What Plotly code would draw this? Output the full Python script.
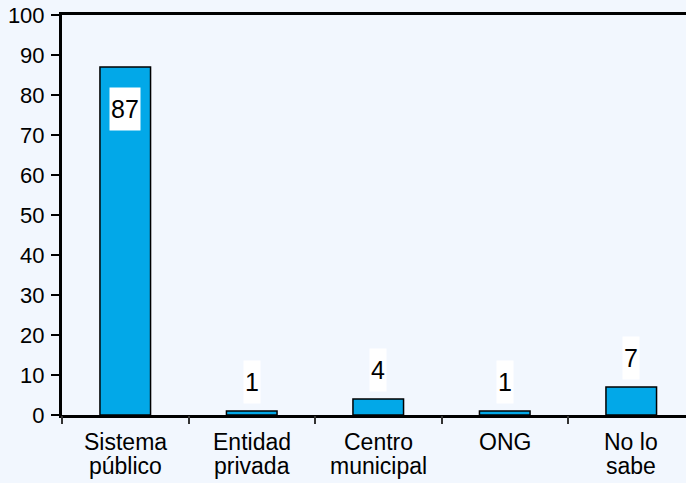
import plotly.graph_objects as go

categories = ["Sistema<br>público", "Entidad<br>privada", "Centro<br>municipal", "ONG", "No lo<br>sabe"]
values = [87, 1, 4, 1, 7]
y_ticks = [0, 10, 20, 30, 40, 50, 60, 70, 80, 90, 100]

BG = "#F2F7FE"
BAR = "#02A8E8"
FONT = "Liberation Sans, Arial, Helvetica, sans-serif"

x_idx = list(range(len(categories)))

fig = go.Figure()
fig.add_trace(go.Bar(
    x=x_idx, y=values, width=0.4,
    marker=dict(color=BAR, line=dict(color="black", width=1.5)),
    hoverinfo="skip", showlegend=False,
))
# invisible trace on secondary x axis for category-boundary ticks
fig.add_trace(go.Scatter(x=[-0.5], y=[0], xaxis="x2", mode="markers",
                         marker=dict(opacity=0), showlegend=False, hoverinfo="skip"))

for i, v in enumerate(values):
    inside = v > 50
    fig.add_annotation(
        x=i, y=v, text=str(v), showarrow=False,
        yanchor="middle", xanchor="center",
        yshift=-42 if inside else 29,
        bgcolor="white", borderpad=0,
        width=30 if len(str(v)) > 1 else 16, height=42,
        font=dict(family=FONT, size=25, color="black"),
    )

# category labels, one annotation per line for tighter line spacing
for i, cat in enumerate(categories):
    for k, line in enumerate(cat.split("<br>")):
        fig.add_annotation(
            x=i, y=0, xref="x", yref="y", text=line, showarrow=False,
            xanchor="center", yanchor="middle", yshift=-27 - 24 * k,
            font=dict(family=FONT, size=23, color="black"),
        )

xr = [-0.5, -0.5 + (686 - 62) / 126.5]

fig.update_layout(
    width=686, height=483,
    margin=dict(l=62, r=0, t=15, b=68),
    paper_bgcolor=BG, plot_bgcolor=BG,
    font=dict(family=FONT, size=22, color="black"),
    xaxis=dict(
        range=xr, tickmode="array", tickvals=x_idx, ticktext=["" for _ in x_idx],
        ticks="", showgrid=False, zeroline=False, automargin=False,
        showline=True, linecolor="black", linewidth=3, mirror=True,
        fixedrange=True,
    ),
    xaxis2=dict(
        range=xr, overlaying="x", side="bottom", anchor="y", automargin=False,
        tickmode="array", tickvals=[-0.5, 0.5, 1.5, 2.5, 3.5, 4.5],
        ticktext=["", "", "", "", "", ""],
        ticks="outside", ticklen=8, tickwidth=2, tickcolor="#333333",
        showgrid=False, zeroline=False, showline=False,
    ),
    yaxis=dict(
        range=[0, 100], tickmode="array", tickvals=y_ticks, automargin=False,
        ticks="outside", ticklen=8, tickwidth=2, tickcolor="black",
        showgrid=False, zeroline=False,
        showline=True, linecolor="black", linewidth=3,
        tickfont=dict(size=22, family=FONT, color="black"),
        ticklabelstandoff=2,
        fixedrange=True,
    ),
)

fig.write_html(
    "out.html",
    config={"displayModeBar": False},
    post_script="document.body.style.margin='0';document.body.style.background='" + BG + "';",
)
